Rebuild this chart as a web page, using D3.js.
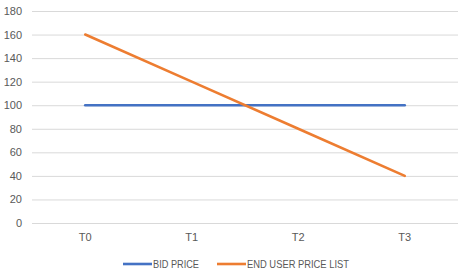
<!DOCTYPE html>
<html><head><meta charset="utf-8">
<script src="https://cdn.jsdelivr.net/npm/d3@7"></script>
<style>body{margin:0;background:#fff}text{font-family:"Liberation Sans",Arial,sans-serif;}</style>
</head><body><svg id="c" width="472" height="279"></svg>
<script>
const categories = ["T0","T1","T2","T3"];
const bidPrice = [100,100,100,100];
const endUserPriceList = [160,120,80,40];
const yTicks = [0,20,40,60,80,100,120,140,160,180];
const seriesNames = ["BID PRICE","END USER PRICE LIST"];
const colors = ["#4472C4","#ED7D31"];

const svg = d3.select("#c");
const L=32,R=458,T=11,B=223;
const x = d3.scaleBand().domain(categories).range([L,R]);
const y = d3.scaleLinear().domain([0,180]).range([B,T]);

const yAxis = svg.append("g").attr("transform",`translate(${L},0)`)
  .call(d3.axisLeft(y).tickValues(yTicks).tickSize(-(R-L)).tickPadding(10));
yAxis.select(".domain").remove();
yAxis.selectAll("line").attr("stroke","#d9d9d9");
yAxis.selectAll("text").attr("fill","#595959").style("font-size","11px");

const xAxis = svg.append("g").attr("transform",`translate(0,${B})`)
  .call(d3.axisBottom(x).tickSize(0).tickPadding(10));
xAxis.select(".domain").remove();
xAxis.selectAll("text").attr("fill","#595959").style("font-size","11px");

const line = d3.line().x((d,i)=>x(categories[i])+x.bandwidth()/2).y(d=>y(d));
[bidPrice,endUserPriceList].forEach((s,k)=>{
  svg.append("path").datum(s).attr("d",line).attr("fill","none")
    .attr("stroke",colors[k]).attr("stroke-width",2.6).attr("stroke-linecap","round");
});

const lg = svg.append("g");
const legendX=[123,217];
const legendW=[46,102];
seriesNames.forEach((n,k)=>{
  lg.append("line").attr("x1",legendX[k]).attr("x2",legendX[k]+29).attr("y1",264).attr("y2",264)
    .attr("stroke",colors[k]).attr("stroke-width",2.6);
  lg.append("text").attr("x",legendX[k]+30).attr("y",264).attr("dy","0.35em")
    .attr("fill","#595959").style("font-size","11px")
    .attr("textLength",legendW[k]).attr("lengthAdjust","spacingAndGlyphs").text(n);
});
</script></body></html>
